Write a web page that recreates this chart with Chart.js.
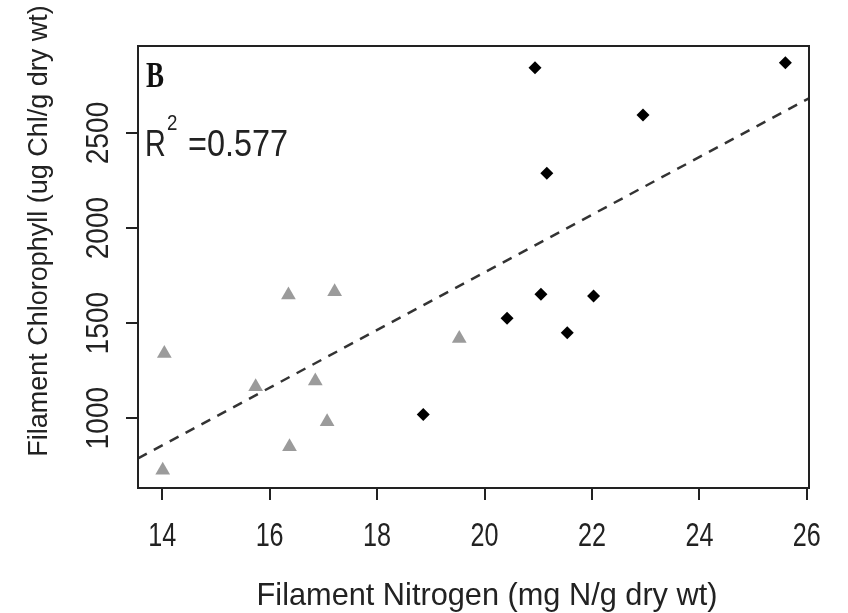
<!DOCTYPE html>
<html>
<head>
<meta charset="utf-8">
<script src="https://cdn.jsdelivr.net/npm/chart.js@4"></script>
<style>
  body { margin: 0; background: #fff; }
  canvas { display: block; }
</style>
</head>
<body>
<canvas id="myChart" width="848" height="613"></canvas>
<script>
// Gray triangles (low-N filaments)
const nitrogenLow = [14.01, 14.04, 15.74, 16.35, 16.37, 16.85, 17.07, 17.21, 19.53];
const chlorophyllLow = [726, 1340, 1165, 1647, 849, 1195, 980, 1665, 1419];
// Black diamonds (high-N filaments)
const nitrogenHigh = [18.86, 20.42, 20.94, 21.05, 21.16, 21.54, 22.03, 22.95, 25.60];
const chlorophyllHigh = [1019, 1525, 2844, 1651, 2288, 1449, 1642, 2595, 2870];
// Regression line, read at the two ends of the plot box
const fitNitrogen = [13.55, 26.04];
const fitChlorophyll = [788, 2683];

const xTicks = [14, 16, 18, 20, 22, 24, 26];
const yTicks = [1000, 1500, 2000, 2500];
const xTitle = "Filament Nitrogen (mg N/g dry wt)";
const yTitle = "Filament Chlorophyll (ug Chl/g dry wt)";
const panelLabel = "B";
const r2Text = "0.577";

const toPoints = (xs, ys) => xs.map((x, i) => ({ x: x, y: ys[i] }));

// draw text squeezed along its direction, optionally rotated
function drawText(ctx, txt, x, y, opts) {
  ctx.save();
  ctx.translate(x, y);
  if (opts.rotate) ctx.rotate(opts.rotate);
  ctx.scale(opts.squeeze || 1, 1);
  ctx.font = opts.font;
  ctx.fillStyle = opts.color || '#222';
  ctx.textAlign = opts.align || 'left';
  ctx.textBaseline = 'alphabetic';
  ctx.fillText(txt, 0, 0);
  ctx.restore();
}

const textPlugin = {
  id: 'rtext',
  afterDraw(chart) {
    const ctx = chart.ctx;
    const a = chart.chartArea;
    const xs = chart.scales.x, ys = chart.scales.y;
    const sans = '"Liberation Sans", Arial, sans-serif';

    // plot box
    ctx.save();
    ctx.strokeStyle = '#222';
    ctx.lineWidth = 2;
    ctx.strokeRect(a.left, a.top, a.right - a.left, a.bottom - a.top);
    ctx.restore();

    // x tick labels
    xTicks.forEach(v => {
      drawText(ctx, String(v), xs.getPixelForValue(v), 546,
        { font: '34px ' + sans, squeeze: 0.74, align: 'center' });
    });
    // y tick labels, rotated like R's default
    yTicks.forEach(v => {
      drawText(ctx, String(v), 108, ys.getPixelForValue(v),
        { font: '32px ' + sans, squeeze: 0.88, align: 'center', rotate: -Math.PI / 2 });
    });

    // axis titles
    drawText(ctx, xTitle, 487, 605, { font: '32px ' + sans, squeeze: 0.96, align: 'center' });
    drawText(ctx, yTitle, 47, 231, { font: '27px ' + sans, squeeze: 1, align: 'center', rotate: -Math.PI / 2 });

    // panel letter and R squared
    drawText(ctx, panelLabel, 146, 87, { font: 'bold 36px "Liberation Serif", serif', squeeze: 0.75, color: '#111' });
    drawText(ctx, 'R', 145, 156, { font: '36px ' + sans, squeeze: 0.8 });
    drawText(ctx, '2', 167, 130, { font: '22px ' + sans, squeeze: 0.85 });
    drawText(ctx, '=' + r2Text, 188, 156, { font: '36px ' + sans, squeeze: 0.9 });
  }
};

new Chart("myChart", {
  type: "scatter",
  data: {
    datasets: [
      {
        data: toPoints(nitrogenLow, chlorophyllLow),
        pointStyle: 'triangle',
        pointRadius: 8.5,
        backgroundColor: '#9b9b9b',
        borderWidth: 0
      },
      {
        data: toPoints(nitrogenHigh, chlorophyllHigh),
        pointStyle: 'rectRot',
        pointRadius: 6.5,
        backgroundColor: '#000',
        borderWidth: 0
      },
      {
        type: 'line',
        data: toPoints(fitNitrogen, fitChlorophyll),
        showLine: true,
        pointRadius: 0,
        borderColor: '#333',
        borderWidth: 2.5,
        borderDash: [10, 8],
        fill: false
      }
    ]
  },
  options: {
    responsive: false,
    animation: false,
    layout: { padding: { left: 0, top: 46, right: 39, bottom: 0 } },
    plugins: {
      legend: { display: false },
      tooltip: { enabled: false }
    },
    scales: {
      x: {
        type: 'linear',
        min: 13.55,
        max: 26.04,
        afterBuildTicks: s => { s.ticks = xTicks.map(v => ({ value: v })); },
        afterFit: s => { s.height = 125; },
        ticks: { display: false },
        border: { display: false },
        grid: { drawOnChartArea: false, drawTicks: true, tickLength: 12, color: '#222', lineWidth: 2 }
      },
      y: {
        type: 'linear',
        min: 632,
        max: 2958,
        afterBuildTicks: s => { s.ticks = yTicks.map(v => ({ value: v })); },
        afterFit: s => { s.width = 138; },
        ticks: { display: false },
        border: { display: false },
        grid: { drawOnChartArea: false, drawTicks: true, tickLength: 12, color: '#222', lineWidth: 2 }
      }
    }
  },
  plugins: [textPlugin]
});
</script>
</body>
</html>
